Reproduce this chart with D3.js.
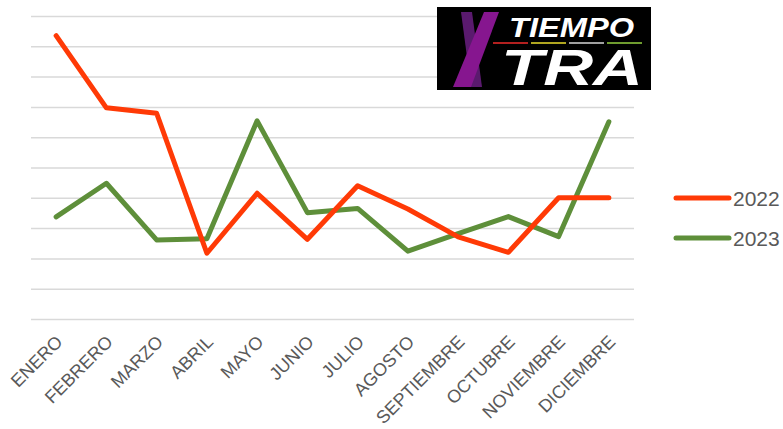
<!DOCTYPE html>
<html>
<head>
<meta charset="utf-8">
<script src="https://cdn.jsdelivr.net/npm/d3@7"></script>
<style>
  body { margin: 0; background: #fff; }
  .grid line { stroke: #d9d9d9; stroke-width: 1.5; }
  .grid path { display: none; }
  .x-axis path, .x-axis line { display: none; }
</style>
</head>
<body>
<div id="chart-area"></div>
<script>
var months = ["ENERO", "FEBRERO", "MARZO", "ABRIL", "MAYO", "JUNIO", "JULIO",
              "AGOSTO", "SEPTIEMBRE", "OCTUBRE", "NOVIEMBRE", "DICIEMBRE"];
var values2022 = [9.35, 6.97, 6.79, 2.17, 4.15, 2.63, 4.40, 3.63, 2.71, 2.20, 4.00, 4.00];
var values2023 = [3.37, 4.48, 2.61, 2.65, 6.54, 3.51, 3.65, 2.24, 2.82, 3.38, 2.72, 6.51];
var gridTicks = [0, 1, 2, 3, 4, 5, 6, 7, 8, 9, 10];
var seriesNames = ["2022", "2023"];
var seriesColors = ["#ff3a06", "#5e8f3a"];

var width = 783, height = 429;
var margin = {left: 31, right: 149, top: 16, bottom: 110};

var svg = d3.select("#chart-area").append("svg")
    .attr("width", width)
    .attr("height", height);

var x = d3.scalePoint()
    .domain(months)
    .range([margin.left, width - margin.right])
    .padding(0.5);

var y = d3.scaleLinear()
    .domain([0, 10])
    .range([height - margin.bottom, margin.top]);

// gridlines
svg.append("g")
    .attr("class", "grid")
    .attr("transform", "translate(" + margin.left + ",0)")
    .call(d3.axisLeft(y)
        .tickValues(gridTicks)
        .tickSize(-(width - margin.right - margin.left))
        .tickFormat(""));

// x labels, rotated
var xAxis = svg.append("g")
    .attr("class", "x-axis")
    .attr("transform", "translate(0," + (height - margin.bottom) + ")")
    .call(d3.axisBottom(x).tickSize(0).tickPadding(0));

xAxis.selectAll("text")
    .attr("font-family", "Liberation Sans, Arial, sans-serif")
    .attr("font-size", 18)
    .attr("fill", "#595959")
    .attr("text-anchor", "end")
    .attr("dy", 0)
    .attr("transform", "translate(7,24) rotate(-45)");

// lines
var line = d3.line()
    .x(function(d, i) { return x(months[i]); })
    .y(function(d) { return y(d); });

[values2023, values2022].forEach(function(vals, k) {
    var idx = k === 0 ? 1 : 0;
    svg.append("path")
        .datum(vals)
        .attr("fill", "none")
        .attr("stroke", seriesColors[idx])
        .attr("stroke-width", 5)
        .attr("stroke-linejoin", "round")
        .attr("stroke-linecap", "round")
        .attr("d", line);
});

// legend
var legend = svg.append("g")
    .attr("transform", "translate(676,198)");

seriesNames.forEach(function(name, i) {
    var row = legend.append("g")
        .attr("transform", "translate(0," + (i * 40) + ")");
    row.append("line")
        .attr("x1", 0).attr("x2", 53)
        .attr("stroke", seriesColors[i])
        .attr("stroke-width", 5)
        .attr("stroke-linecap", "round");
    row.append("text")
        .attr("x", 57)
        .attr("y", 8)
        .attr("font-family", "Liberation Sans, Arial, sans-serif")
        .attr("font-size", 21)
        .attr("fill", "#595959")
        .text(name);
});

// logo
var logo = svg.append("g")
    .attr("transform", "translate(437,7)");

logo.append("rect")
    .attr("width", 214)
    .attr("height", 83)
    .attr("fill", "#000");

logo.append("polygon")
    .attr("points", "24,5 35,5 45,80 34,80")
    .attr("fill", "#5a1a6e");
logo.append("polygon")
    .attr("points", "47,5 62,5 34,80 16,80")
    .attr("fill", "#86168f");

logo.append("text")
    .attr("x", 72)
    .attr("y", 30)
    .attr("font-family", "Liberation Sans, Arial, sans-serif")
    .attr("font-weight", "bold")
    .attr("font-style", "italic")
    .attr("font-size", 27)
    .attr("textLength", 125)
    .attr("lengthAdjust", "spacingAndGlyphs")
    .attr("fill", "#fff")
    .text("TIEMPO");

var stripeColors = ["#b3201f", "#b0a620", "#a0a0a0", "#6f9c2f"];
stripeColors.forEach(function(c, i) {
    logo.append("rect")
        .attr("x", 56 + i * 38)
        .attr("y", 35)
        .attr("width", 35)
        .attr("height", 2)
        .attr("fill", c);
});

logo.append("text")
    .attr("x", 64)
    .attr("y", 78)
    .attr("font-family", "Liberation Sans, Arial, sans-serif")
    .attr("font-weight", "bold")
    .attr("font-style", "italic")
    .attr("font-size", 50)
    .attr("textLength", 142)
    .attr("lengthAdjust", "spacingAndGlyphs")
    .attr("fill", "#fff")
    .text("TRA");
</script>
</body>
</html>
